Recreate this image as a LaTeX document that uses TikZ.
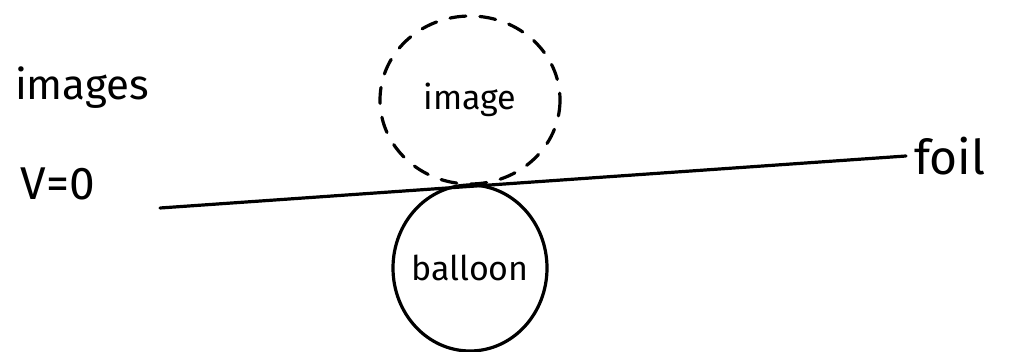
\documentclass[tikz,border=0pt]{standalone}
\usepackage{fontspec}
\setmainfont{Fira Sans}
\begin{document}
\begin{tikzpicture}[x=1pt,y=-1pt,
  stroke/.style={line width=3.2pt,line cap=round,line join=round},
  lbl/.style={font=\fontsize{42}{48}\selectfont,inner sep=0pt},
  small/.style={font=\fontsize{34}{40}\selectfont,inner sep=0pt}]
\useasboundingbox (0,0) rectangle (1024,352);
\node[lbl] (images) at (82,88) {images};
\node[lbl,font=\fontsize{46}{52}\selectfont] (v0) at (58,184) {V=0};
\node[lbl,anchor=west,font=\fontsize{48}{54}\selectfont] (foil) at (914,156) {foil};
\node[small] (image) at (470,100) {image};
\node[small] (balloon) at (470,268) {balloon};
\draw[stroke,dashed,dash pattern=on 16pt off 14pt] (image) ellipse [x radius=90,y radius=84];
\draw[stroke] (balloon) ellipse [x radius=77,y radius=83];
\coordinate (lstart) at (160,208);
\draw[stroke] (lstart) -- ([xshift=-8pt]foil.west);
\end{tikzpicture}
\end{document}
